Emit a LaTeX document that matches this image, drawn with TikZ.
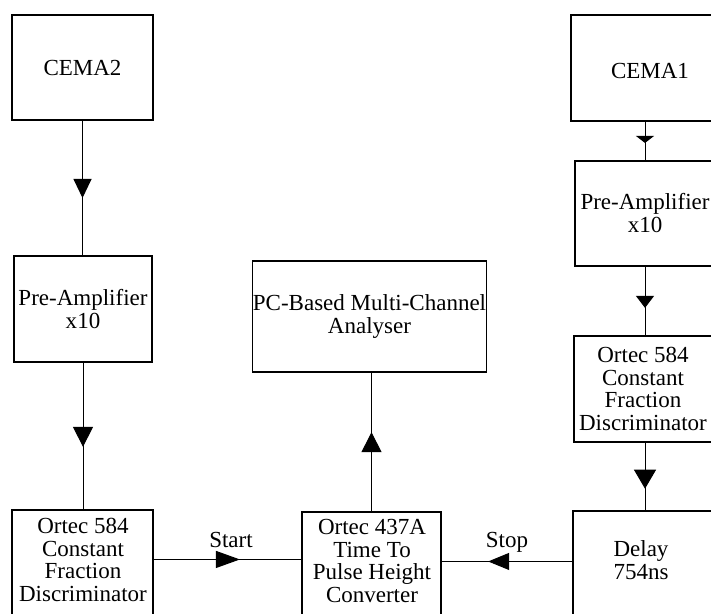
\documentclass[tikz,border=0pt]{standalone}
\usepackage{fontspec}
\setmainfont{Liberation Serif}
\usetikzlibrary{arrows.meta,decorations.markings}
\begin{document}
\begin{tikzpicture}[x=1pt,y=-1pt,
  box/.style={draw, line width=1.1pt, inner sep=0pt, align=center, font=\fontsize{23}{22.5}\selectfont},
  txt/.style={inner sep=0pt, align=center, font=\fontsize{23}{22.5}\selectfont},
  conn/.style={line width=1pt},
  arr/.style n args={3}{postaction={decorate}, decoration={markings, mark=at position #1 with {\arrow{Triangle[width=#2pt,length=#3pt]}}}}]
\useasboundingbox (0,0) rectangle (711,613);
\clip (0,0) rectangle (711,613);
% left column
\node[box, minimum width=141pt, minimum height=105pt] (cema2) at (82.5,67.5) {CEMA2};
\node[box, minimum width=138pt, minimum height=106pt] (preL) at (83,309) {Pre-Amplifier\\x10};
\node[box, minimum width=141pt, minimum height=130pt] (cfdL) at (82.5,575) {};
\node[txt] (cfdLt) at (83,560) {Ortec 584\\Constant\\Fraction\\Discriminator};
% middle
\node[box, minimum width=233pt, minimum height=111pt] (pc) at (369.5,316.5) {PC-Based Multi-Channel\\Analyser};
\node[box, minimum width=139pt, minimum height=128pt] (tac) at (371.5,576) {};
\node[txt] (tact) at (372,561) {Ortec 437A\\Time To\\Pulse Height\\Converter};
% right column
\node[box, minimum width=148pt, minimum height=106pt] (cema1) at (645,68) {};
\node[txt] (cema1t) at (650,71) {CEMA1};
\node[box, minimum width=140pt, minimum height=105pt] (preR) at (645,213.5) {};
\node[txt] (preRt) at (645,213) {Pre-Amplifier\\x10};
\node[box, minimum width=142pt, minimum height=106pt] (cfdR) at (645,389) {};
\node[txt] (cfdRt) at (643,389) {Ortec 584\\Constant\\Fraction\\Discriminator};
\node[box, minimum width=144pt, minimum height=129pt] (delay) at (645,575.5) {};
\node[txt] (delayt) at (641,560) {Delay\\754ns};
% labels
\node[txt] (start) at (231,540) {Start};
\node[txt] (stop) at (507,542) {Stop};
% connectors
\draw[conn, arr={0.574}{18}{19}] (cema2.south) -- (cema2.south |- preL.north);
\draw[conn, arr={0.574}{20}{20}] (preL.south) -- (preL.south |- cfdL.north);
\draw[conn, arr={0.584}{17}{24}] ([yshift=-50pt]cfdL.north east) -- ([yshift=-50pt]cfdL.north east -| tac.west);
\draw[conn, arr={0.644}{17}{21}] ([yshift=-51pt]delay.north west) -- ([yshift=-51pt]delay.north west -| tac.east);
\draw[conn, arr={0.571}{20}{20}] (tac.north) -- (tac.north |- pc.south);
\draw[conn, arr={0.55}{18}{7}] (cema1.south) -- (cema1.south |- preR.north);
\draw[conn, arr={0.6}{18}{12}] (preR.south) -- (preR.south |- cfdR.north);
\draw[conn, arr={0.68}{22}{19}] (cfdR.south) -- (cfdR.south |- delay.north);
\end{tikzpicture}
\end{document}
